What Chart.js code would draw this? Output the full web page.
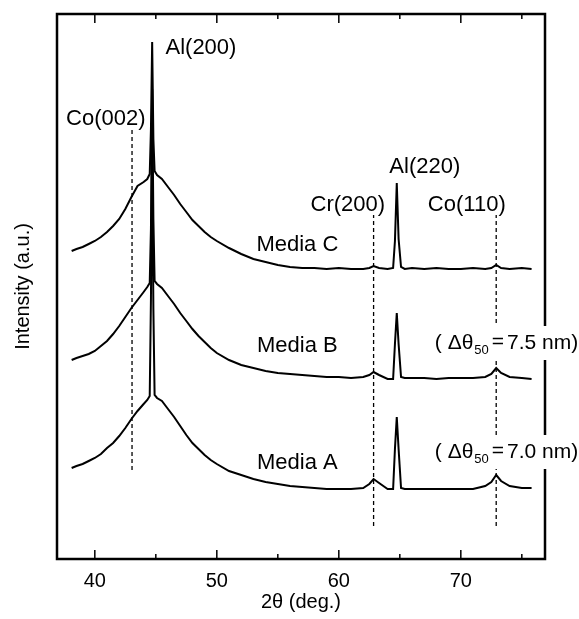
<!DOCTYPE html>
<html>
<head>
<meta charset="utf-8">
<script src="https://cdn.jsdelivr.net/npm/chart.js@4.4.1/dist/chart.umd.min.js"></script>
<style>
  html, body { margin: 0; padding: 0; background: #fff; }
  canvas { display: block; }
</style>
</head>
<body>
<canvas id="xrd" width="579" height="619"></canvas>
<script>
// 2theta grid (deg.), shared by the three scans
const twoTheta = [
  38.1, 38.5, 39.0, 39.5, 40.0, 40.5, 41.0, 41.5, 42.0, 42.5,
  43.0, 43.5, 44.0, 44.3, 44.5, 44.6, 44.7, 44.8, 44.9, 45.1,
  45.5, 46.0, 46.5, 47.0, 47.5, 48.0, 48.5, 49.0, 49.5, 50.0,
  51.0, 52.0, 53.0, 54.0, 55.0, 56.0, 57.0, 58.0, 59.0, 60.0,
  61.0, 62.0, 62.5, 62.85, 63.3, 64.0, 64.45, 64.6, 64.75, 64.9,
  65.1, 65.4, 66.0, 67.0, 68.0, 69.0, 70.0, 71.0, 72.0, 72.5,
  72.9, 73.3, 74.0, 75.0, 75.8
];

// intensities (a.u., curves stacked)
const mediaC = [
  308, 310, 312, 315, 318, 322, 327, 333, 340, 350,
  362, 373, 377, 380, 385, 430, 517, 420, 388, 384,
  380, 372, 364, 355, 347, 339, 333, 327, 322, 318,
  311, 305, 300, 297, 294, 292, 291, 291, 290, 291,
  290, 290, 291, 293, 291, 290, 291, 318, 376, 320,
  292, 290, 291, 290, 291, 290, 290, 291, 290, 291,
  294, 291, 290, 291, 290
];
const mediaB = [
  199, 201, 203, 205, 208, 213, 218, 225, 233, 242,
  251, 259, 267, 272, 276, 330, 470, 340, 278, 275,
  271, 263, 255, 246, 238, 230, 223, 217, 211, 206,
  199, 194, 191, 188, 186, 185, 184, 183, 182, 182,
  181, 182, 184, 187, 184, 180, 180, 215, 246, 215,
  182, 181, 181, 181, 180, 181, 181, 181, 182, 185,
  191, 186, 182, 181, 180
];
const mediaA = [
  91, 93, 95, 98, 101, 105, 111, 116, 123, 131,
  140, 148, 155, 159, 163, 260, 420, 250, 164, 161,
  158, 150, 142, 133, 124, 116, 110, 104, 99, 95,
  88, 84, 80, 77, 75, 73, 72, 71, 70, 70,
  70, 71, 75, 80, 76, 70, 70, 110, 142, 110,
  71, 70, 70, 70, 70, 70, 70, 70, 73, 77,
  84, 78, 73, 71, 71
];

// dashed reflection markers
const markerPos = [43.05, 62.85, 72.9];
const markerTop = [431, 344, 344];
const markerBottom = [89, 33, 33];

const peakNames = ['Al(200)', 'Co(002)', 'Al(220)', 'Cr(200)', 'Co(110)'];
const peakNameX = [48.7, 40.9, 67.05, 60.74, 70.49];
const peakNameY = [511, 440, 392, 354, 354];

const mediaNames = ['Media C', 'Media B', 'Media A'];
const mediaNameX = [56.6, 56.6, 56.6];
const mediaNameY = [314, 213, 96];

const deltaValues = ['7.5', '7.0'];
const deltaX = [67.87, 67.87];
const deltaY = [216, 107];

const xTicks = [40, 45, 50, 55, 60, 65, 70, 75];

const FONT = '"Liberation Sans", Arial, sans-serif';
Chart.defaults.font.family = FONT;
Chart.defaults.color = '#000';

function curve(ys) {
    return {
        data: twoTheta.map((x, i) => ({ x, y: ys[i] })),
        borderColor: '#000',
        borderWidth: 2,
        pointRadius: 0,
        tension: 0,
        fill: false
    };
}

const markers = markerPos.map((x, i) => ({
    data: [{ x, y: markerBottom[i] }, { x, y: markerTop[i] }],
    borderColor: '#000',
    borderWidth: 1.3,
    borderDash: [4, 3],
    pointRadius: 0,
    fill: false
}));

// frame, inward ticks and the text on the plot
const frame = {
    id: 'frame',
    afterDraw(chart) {
        const { ctx, chartArea: a, scales: { x, y } } = chart;
        ctx.save();
        ctx.strokeStyle = '#000';
        ctx.lineWidth = 2.5;
        ctx.strokeRect(a.left, a.top, a.right - a.left, a.bottom - a.top);
        ctx.lineWidth = 1.5;
        x.ticks.forEach(t => {
            const px = x.getPixelForValue(t.value);
            const len = t.value % 10 === 0 ? 9 : 5;
            ctx.beginPath();
            ctx.moveTo(px, a.bottom); ctx.lineTo(px, a.bottom - len);
            ctx.moveTo(px, a.top); ctx.lineTo(px, a.top + len);
            ctx.stroke();
        });

        ctx.fillStyle = '#000';
        ctx.font = '22px ' + FONT;
        ctx.textAlign = 'center';
        ctx.textBaseline = 'middle';
        peakNames.forEach((s, i) => {
            ctx.fillText(s, x.getPixelForValue(peakNameX[i]), y.getPixelForValue(peakNameY[i]));
        });
        mediaNames.forEach((s, i) => {
            ctx.fillText(s, x.getPixelForValue(mediaNameX[i]), y.getPixelForValue(mediaNameY[i]));
        });

        // ( Δθ50 = x nm ) with a white box that breaks the frame
        const big = '21px ' + FONT, small = '13px ' + FONT;
        ctx.textAlign = 'left';
        deltaValues.forEach((v, i) => {
            const px = x.getPixelForValue(deltaX[i]);
            const py = y.getPixelForValue(deltaY[i]);
            ctx.font = big;
            const w1 = ctx.measureText('( Δθ').width;
            const wEq = ctx.measureText('=').width;
            const tail = v + ' nm)';
            const w3 = ctx.measureText(tail).width;
            ctx.font = small;
            const w2 = ctx.measureText('50').width;
            const total = w1 + 1 + w2 + 3 + wEq + 3 + w3;
            ctx.fillStyle = '#fff';
            ctx.fillRect(px - 2, py - 17, total + 4, 34);
            ctx.fillStyle = '#000';
            ctx.font = small;
            ctx.fillText('50', px + w1 + 1, py + 7);
            ctx.font = big;
            ctx.fillText('( Δθ', px, py);
            ctx.fillText('=', px + w1 + w2 + 4, py - 1);
            ctx.fillText(tail, px + w1 + w2 + wEq + 7, py);
        });
        ctx.restore();
    }
};

new Chart(document.getElementById('xrd'), {
    type: 'line',
    data: { datasets: [curve(mediaC), curve(mediaB), curve(mediaA), ...markers] },
    options: {
        responsive: false,
        animation: false,
        devicePixelRatio: 1,
        layout: { padding: { left: 0, right: 34, top: 14, bottom: 0 } },
        plugins: { legend: { display: false }, tooltip: { enabled: false } },
        scales: {
            x: {
                type: 'linear',
                min: 36.9,
                max: 76.9,
                afterBuildTicks: s => { s.ticks = xTicks.map(v => ({ value: v })); },
                afterFit: s => { s.height = 60; },
                grid: { display: false, drawTicks: false },
                border: { display: false },
                ticks: {
                    padding: 10,
                    font: { size: 20 },
                    color: '#000',
                    callback: v => (v % 10 === 0 ? String(v) : '')
                },
                title: {
                    display: true,
                    text: '2θ (deg.)',
                    font: { size: 20 },
                    color: '#000',
                    padding: { top: 0, bottom: 5 }
                }
            },
            y: {
                min: 0,
                max: 545,
                afterFit: s => { s.width = 57; },
                grid: { display: false, drawTicks: false },
                border: { display: false },
                ticks: { display: false },
                title: {
                    display: true,
                    text: 'Intensity (a.u.)',
                    font: { size: 20 },
                    color: '#000',
                    padding: { top: 11, bottom: 0 }
                }
            }
        }
    },
    plugins: [frame]
});
</script>
</body>
</html>
